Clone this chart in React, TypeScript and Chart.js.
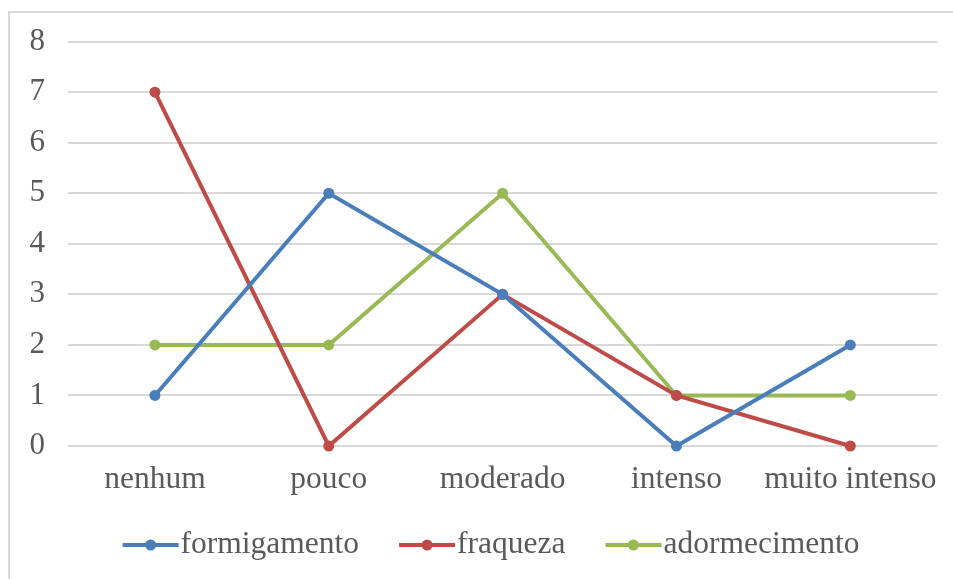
import React, { useEffect, useRef } from "react";
import { Chart, registerables } from "chart.js";

Chart.register(...registerables);

const categories = ["nenhum", "pouco", "moderado", "intenso", "muito intenso"];
const formigamento = [1, 5, 3, 0, 2];
const fraqueza = [7, 0, 3, 1, 0];
const adormecimento = [2, 2, 5, 1, 1];
const seriesNames = ["formigamento", "fraqueza", "adormecimento"];
const seriesColors = ["#4A7EBB", "#BE4B48", "#98B954"];

const FONT_FAMILY = "'Liberation Serif', 'Times New Roman', serif";
const TEXT_COLOR = "#595959";

const bottomLegend = {
  id: "bottomLegend",
  afterDraw(chart: any) {
    const ctx = chart.ctx;
    ctx.save();
    ctx.font = `31.5px ${FONT_FAMILY}`;
    ctx.textBaseline = "middle";
    const symW = 58;
    const gap = 40;
    const items = chart.data.datasets.map((d: any) => ({
      label: d.label,
      color: d.borderColor,
      w: ctx.measureText(d.label).width,
    }));
    const total = items.reduce((s: number, it: any) => s + symW + it.w, 0) + gap * (items.length - 1);
    let x = 491 - total / 2;
    const y = 545;
    for (const it of items) {
      ctx.strokeStyle = it.color;
      ctx.lineWidth = 4;
      ctx.beginPath();
      ctx.moveTo(x, y);
      ctx.lineTo(x + symW - 2, y);
      ctx.stroke();
      ctx.fillStyle = it.color;
      ctx.beginPath();
      ctx.arc(x + (symW - 2) / 2, y, 5.5, 0, Math.PI * 2);
      ctx.fill();
      ctx.fillStyle = TEXT_COLOR;
      ctx.textAlign = "left";
      ctx.fillText(it.label, x + symW, y);
      x += symW + it.w + gap;
    }
    ctx.restore();
  },
};

const frame = {
  id: "frame",
  beforeDraw(chart: any) {
    const ctx = chart.ctx;
    ctx.save();
    ctx.fillStyle = "#ffffff";
    ctx.fillRect(0, 0, chart.width, chart.height);
    ctx.strokeStyle = "#D9D9D9";
    ctx.lineWidth = 2;
    ctx.strokeRect(9, 12, chart.width + 20, chart.height + 20);
    ctx.restore();
  },
};

export default function App() {
  const ref = useRef<HTMLCanvasElement>(null);
  useEffect(() => {
    if (!ref.current) return;
    const mk = (label: string, data: number[], color: string) => ({
      label,
      data,
      borderColor: color,
      backgroundColor: color,
      borderWidth: 4,
      pointRadius: 5.5,
      pointHoverRadius: 5.5,
      pointBackgroundColor: color,
      pointBorderColor: color,
      pointBorderWidth: 0,
      tension: 0,
      clip: false as any,
    });
    const chart = new Chart(ref.current, {
      type: "line",
      data: {
        labels: categories,
        datasets: [
          mk(seriesNames[0], formigamento, seriesColors[0]),
          mk(seriesNames[1], fraqueza, seriesColors[1]),
          mk(seriesNames[2], adormecimento, seriesColors[2]),
        ],
      },
      options: {
        animation: false,
        responsive: false,
        maintainAspectRatio: false,
        layout: { padding: { top: 41, right: 15, left: 0, bottom: 0 } },
        plugins: {
          legend: { display: false },
          tooltip: { enabled: false },
          title: { display: false },
        },
        scales: {
          x: {
            offset: true,
            grid: { display: false, drawTicks: false },
            border: { display: false },
            ticks: {
              color: TEXT_COLOR,
              font: { family: FONT_FAMILY, size: 31.5 },
              padding: 15,
              maxRotation: 0,
              autoSkip: false,
            },
            afterFit: (s: any) => {
              s.height = 133;
            },
          },
          y: {
            min: 0,
            max: 8,
            grid: { color: "#D9D9D9", lineWidth: 2, drawTicks: false },
            border: { display: false },
            ticks: {
              stepSize: 1,
              color: TEXT_COLOR,
              font: { family: FONT_FAMILY, size: 31 },
              padding: 23,
            },
            afterFit: (s: any) => {
              s.width = 68;
            },
          },
        },
      },
      plugins: [frame, bottomLegend],
    });
    return () => chart.destroy();
  }, []);
  return (
    <div style={{ position: "fixed", left: 0, top: 0, width: 953, height: 579, background: "#fff" }}>
      <canvas ref={ref} width={953} height={579} style={{ display: "block" }} />
    </div>
  );
}
